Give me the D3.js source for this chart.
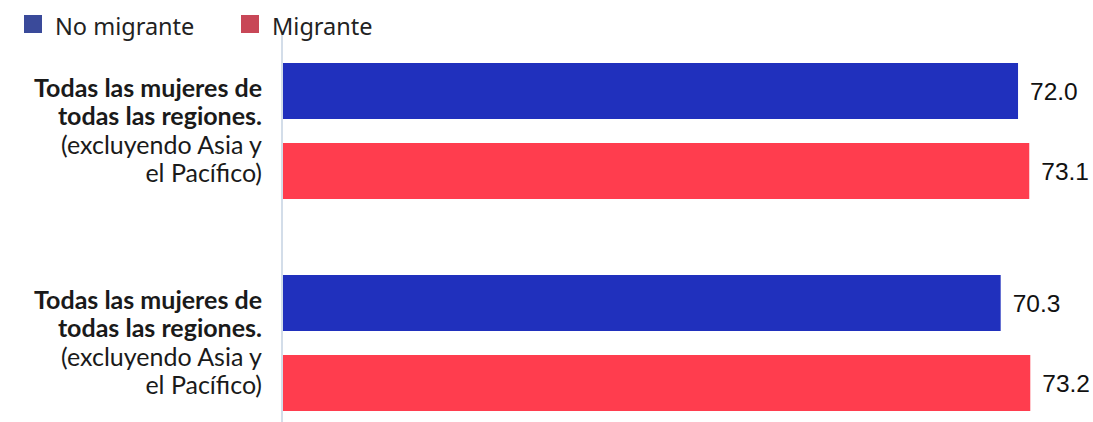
<!DOCTYPE html>
<html><head><meta charset="utf-8">
<script src="https://cdn.jsdelivr.net/npm/d3@7"></script>
<style>body{margin:0;background:#fff;} svg{display:block;}</style>
</head><body>
<svg id="chart" width="1093" height="422"></svg>
<script>
const categories = ["cat1", "cat2"];
const labelBold = [["Todas las mujeres de", "todas las regiones."], ["Todas las mujeres de", "todas las regiones."]];
const labelNormal = [["(excluyendo Asia y", "el Pacífico)"], ["(excluyendo Asia y", "el Pacífico)"]];
const seriesNames = ["No migrante", "Migrante"];
const noMigrante = [72.0, 70.3];
const migrante = [73.1, 73.2];
const barColors = ["#2030bd", "#ff3d4e"];
const legendColors = ["#3a4a9a", "#c84757"];

const svg = d3.select("#chart");
const x = d3.scaleLinear().domain([0, 80]).range([283, 283 + 816.7]);
const y0 = d3.scaleBand().domain(categories).range([25, 449]).paddingInner(0.3585).paddingOuter(0.17925);
const y1 = d3.scaleBand().domain(seriesNames).range([0, y0.bandwidth()]).paddingInner(0.3);

const data = categories.map((c, i) => ({cat: c, i, values: [noMigrante[i], migrante[i]]}));

// axis line
svg.append("line").attr("x1", 282).attr("x2", 282).attr("y1", 33).attr("y2", 422)
  .attr("stroke", "#d3dde9").attr("stroke-width", 2);

const g = svg.selectAll("g.cat").data(data).join("g").attr("class", "cat")
  .attr("transform", d => `translate(0,${y0(d.cat)})`);

g.selectAll("rect").data(d => d.values.map((v, k) => ({v, k})))
  .join("rect")
  .attr("x", x(0)).attr("y", d => y1(seriesNames[d.k]))
  .attr("width", d => x(d.v) - x(0)).attr("height", y1.bandwidth())
  .attr("fill", d => barColors[d.k]);

g.selectAll("text.val").data(d => d.values.map((v, k) => ({v, k})))
  .join("text").attr("class", "val")
  .attr("x", d => x(d.v) + 12).attr("y", d => y1(seriesNames[d.k]) + y1.bandwidth() / 2)
  .attr("dy", "0.36em")
  .attr("font-family", "Liberation Sans, Arial, sans-serif").attr("font-size", 24.5)
  .attr("fill", "#111").text(d => d.v.toFixed(1));

// category labels
const lh = 28.5;
g.each(function(d) {
  const sel = d3.select(this);
  const lines = labelBold[d.i].map(t => ({t, b: true})).concat(labelNormal[d.i].map(t => ({t, b: false})));
  const mid = y0.bandwidth() / 2;
  const start = mid - (lines.length - 1) * lh / 2;
  sel.selectAll("text.lab").data(lines).join("text").attr("class", "lab")
    .attr("x", 262).attr("y", (l, j) => start + j * lh).attr("dy", "0.35em")
    .attr("text-anchor", "end")
    .attr("font-family", "Lato, sans-serif").attr("font-size", 25)
    .attr("font-weight", l => l.b ? 700 : 400)
    .attr("fill", "#1a1a1a").text(l => l.t);
});

// legend
const legendX = [24, 241];
const lg = svg.selectAll("g.leg").data(seriesNames).join("g").attr("class", "leg")
  .attr("transform", (d, i) => `translate(${legendX[i]},0)`);
lg.append("rect").attr("x", 0).attr("y", 15).attr("width", 18).attr("height", 18)
  .attr("fill", (d, i) => legendColors[i]);
lg.append("text").attr("x", 31).attr("y", 35)
  .attr("font-family", "Noto Sans, sans-serif").attr("font-size", 23.5)
  .attr("fill", "#222").text(d => d);
</script>
</body></html>
